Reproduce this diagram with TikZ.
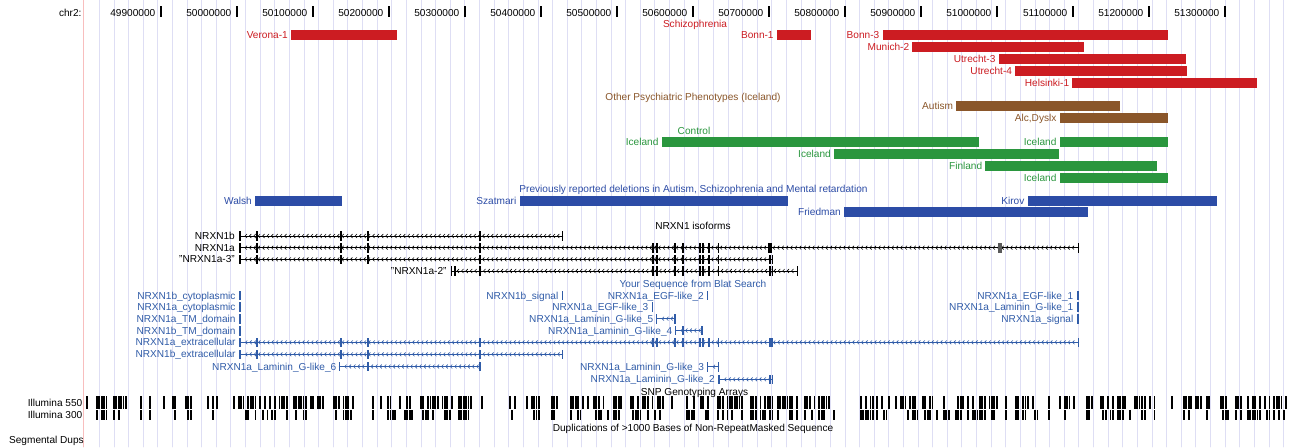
\documentclass[tikz,border=0pt]{standalone}
\usepackage{fontspec}
\setmainfont{Liberation Sans}
\usepackage{xcolor}
\definecolor{schred}{RGB}{204,28,34}
\definecolor{psybrown}{RGB}{138,86,42}
\definecolor{ctrlgreen}{RGB}{42,150,62}
\definecolor{prevblue}{RGB}{44,76,166}
\definecolor{blatblue}{RGB}{48,92,168}
\definecolor{gridcol}{RGB}{222,222,244}
\definecolor{pinkline}{RGB}{248,190,190}
% one coloured CNV bar with its name to the left
\newcommand{\cnvbar}[6]{%
  \fill[#2] (#4,#6-5) rectangle (#5,#6+5);
  \node[lbl,text=#2,anchor=east] (#1) at (#4-3,#6) {#3};}
% intron line with chevrons (minus strand)
\newcommand{\intron}[4]{%
  \draw[#1,line width=0.9pt] (#3,#2) -- (#4,#2);
  \pgfmathtruncatemacro\nchev{(#4-#3-4)/4.4}
  \foreach \k in {1,...,\nchev}
    \draw[#1,line width=0.6pt] ({#3+2.8+4.4*\k},#2-1.8) -- ++(-1.8,1.8) -- ++(1.8,1.8);}
% exon blocks x/width
\newcommand{\exons}[3]{%
  \foreach \x/\w in {#3}
    \fill[#1] ({\x-\w/2},#2-4.8) rectangle ({\x+\w/2},#2+4.8);}
\begin{document}
\begin{tikzpicture}
  [line cap=round,line join=round,x=1pt,y=-1pt,
   lbl/.style={inner sep=0pt,font=\fontsize{10.1}{12}\selectfont,text height=7.3pt,text depth=0pt}]
\useasboundingbox[fill=white] (0,0) rectangle (1290,447);
% guide lines
\foreach \k in {0,...,81}
  \draw[gridcol,line width=0.8pt] ({99.3+14.62*\k},0) -- ++(0,447);
\draw[pinkline,line width=0.8pt] (83.3,0) -- (83.3,447);
% ruler
\node[lbl,anchor=east] (chr) at (81.7,13) {chr2:};
\foreach \k in {0,...,14}{
  \pgfmathtruncatemacro\lab{499+\k}
  \draw[line width=1.8pt,line cap=butt] ({160.7+76*\k},6) -- ++(0,10.5);
  \node[lbl,anchor=east] (tick\k) at ({155.5+76*\k},12.5) {\lab00000};
}
% Schizophrenia
\node[lbl,text=schred] (schiz) at (695,23.5) {Schizophrenia};
\cnvbar{verona}{schred}{Verona-1}{291}{396.7}{34.7}
\cnvbar{bonna}{schred}{Bonn-1}{776.8}{811.2}{34.7}
\cnvbar{bonnc}{schred}{Bonn-3}{882.5}{1167.8}{34.7}
\cnvbar{munich}{schred}{Munich-2}{912.4}{1083.6}{46.7}
\cnvbar{utrc}{schred}{Utrecht-3}{998.6}{1186}{58.7}
\cnvbar{utrd}{schred}{Utrecht-4}{1015.2}{1187.3}{70.7}
\cnvbar{helsinki}{schred}{Helsinki-1}{1072.4}{1257}{82.7}
% other phenotypes
\node[lbl,text=psybrown] (other) at (693,96.5) {Other Psychiatric Phenotypes (Iceland)};
\cnvbar{autism}{psybrown}{Autism}{956.3}{1120}{105.5}
\cnvbar{alc}{psybrown}{Alc,Dyslx}{1059.6}{1167.8}{118}
% controls
\node[lbl,text=ctrlgreen] (control) at (694,130.5) {Control};
\cnvbar{icea}{ctrlgreen}{Iceland}{661.6}{979}{141.7}
\cnvbar{iceb}{ctrlgreen}{Iceland}{1059.6}{1167.8}{141.7}
\cnvbar{icec}{ctrlgreen}{Iceland}{834}{1058.7}{153.7}
\cnvbar{finland}{ctrlgreen}{Finland}{985.4}{1157}{166}
\cnvbar{iced}{ctrlgreen}{Iceland}{1059.6}{1167.8}{178}
% previously reported
\node[lbl,text=prevblue] (prev) at (693.5,189) {Previously reported deletions in Autism, Schizophrenia and Mental retardation};
\cnvbar{walsh}{prevblue}{Walsh}{255}{342}{200.5}
\cnvbar{szatmari}{prevblue}{Szatmari}{519.5}{788.4}{200.5}
\cnvbar{kirov}{prevblue}{Kirov}{1027.6}{1217}{200.5}
\cnvbar{friedman}{prevblue}{Friedman}{844}{1087.8}{212}
% NRXN1 isoforms
\node[lbl] (iso) at (693,225.7) {NRXN1 isoforms};
\node[lbl,anchor=east] (nxb) at (235,236) {NRXN1b};
\intron{black}{236}{239.6}{562.6}
\exons{black}{236}{239.6/1.8,257/1.4,340.8/1.4,368/1.4,480/1.4,562.6/1.4}
\node[lbl,anchor=east] (nxa) at (235,247.7) {NRXN1a};
\intron{black}{247.7}{239.6}{1078.6}
\exons{black}{247.7}{239.6/1.8,257/1.4,340.8/1.4,368/1.4,480/1.4,652.7/1.6,656.7/1.6,675/2.2,683/1.4,700/1.6,703/1.6,709/1.4,718.7/1.4,770/3.2,1078.6/1.4}
\exons{black!65}{247.7}{1000/3.2}
\node[lbl,anchor=east] (nxac) at (235,259.3) {"NRXN1a-3"};
\intron{black}{259.3}{239.6}{772.5}
\exons{black}{259.3}{239.6/1.8,257/1.4,340.8/2.6,368/1.4,480/1.4,652.7/1.6,656.7/1.6,675/1.8,683/1.4,700/1.6,703/1.6,709/1.4,718.7/1.4,770/1.5,772.5/1.5}
\node[lbl,anchor=east] (nxaa) at (446.7,271) {"NRXN1a-2"};
\intron{black}{271}{451.7}{797.3}
\exons{black}{271}{451.7/1.5,455/1.4,480/1.4,652.7/1.6,656.7/1.6,675/1.8,683/1.4,700/1.6,703/1.6,709/1.4,718.7/1.4,770/1.5,772.5/1.5,797.3/1.4}
% Blat search
\node[lbl,text=blatblue] (blat) at (693,284.3) {Your Sequence from Blat Search};
\node[lbl,text=blatblue,anchor=east] (bcyto) at (235.7,295.5) {NRXN1b\_cytoplasmic};
\node[lbl,text=blatblue,anchor=east] (acyto) at (235.7,307) {NRXN1a\_cytoplasmic};
\node[lbl,text=blatblue,anchor=east] (atm) at (235.7,319) {NRXN1a\_TM\_domain};
\node[lbl,text=blatblue,anchor=east] (btm) at (235.7,330.7) {NRXN1b\_TM\_domain};
\foreach \y in {295.5,307,319,330.7}{
  \exons{blatblue}{\y}{240/1.6}
}
\node[lbl,text=blatblue,anchor=east] (aextra) at (235.7,342.3) {NRXN1a\_extracellular};
\intron{blatblue}{342.3}{240}{1078.6}
\exons{blatblue}{342.3}{240/1.6,257/1.4,340.8/1.4,368/1.4,480/1.4,652.7/1.6,656.7/1.6,675/1.8,683/1.4,700/1.6,703/1.6,709/1.4,718.7/1.4,769.8/1.5,772/1.5,1078.6/1.4}
\node[lbl,text=blatblue,anchor=east] (bextra) at (235.7,354.3) {NRXN1b\_extracellular};
\intron{blatblue}{354.3}{240}{562.6}
\exons{blatblue}{354.3}{240/1.6,257/1.4,340.8/1.4,368/1.4,480/1.4,562.6/1.4}
\node[lbl,text=blatblue,anchor=east] (lgsix) at (336.5,366.5) {NRXN1a\_Laminin\_G-like\_6};
\intron{blatblue}{366.5}{339.3}{480}
\exons{blatblue}{366.5}{339.3/1.5,368/1.4,480/1.4}
\node[lbl,text=blatblue,anchor=east] (bsig) at (558.5,295.5) {NRXN1b\_signal};
\exons{blatblue}{295.5}{562.3/1.6}
\node[lbl,text=blatblue,anchor=east] (egftwo) at (704,295.5) {NRXN1a\_EGF-like\_2};
\exons{blatblue}{295.5}{707.3/1.6}
\node[lbl,text=blatblue,anchor=east] (egfthree) at (648.5,307) {NRXN1a\_EGF-like\_3};
\exons{blatblue}{307}{652.3/1.6}
\node[lbl,text=blatblue,anchor=east] (lgfive) at (653.5,318.7) {NRXN1a\_Laminin\_G-like\_5};
\intron{blatblue}{318.7}{656.7}{675}
\exons{blatblue}{318.7}{656.7/1.5,675/1.5}
\node[lbl,text=blatblue,anchor=east] (lgfour) at (672.5,330.5) {NRXN1a\_Laminin\_G-like\_4};
\intron{blatblue}{330.5}{675.7}{702}
\exons{blatblue}{330.5}{675.7/1.5,683/1.4,702/1.4}
\node[lbl,text=blatblue,anchor=east] (lgthree) at (704.3,366.7) {NRXN1a\_Laminin\_G-like\_3};
\intron{blatblue}{366.7}{707.7}{718.7}
\exons{blatblue}{366.7}{707.7/1.5,718.7/1.5}
\node[lbl,text=blatblue,anchor=east] (lgtwo) at (715,379.3) {NRXN1a\_Laminin\_G-like\_2};
\intron{blatblue}{379.3}{719}{772.5}
\exons{blatblue}{379.3}{719/1.5,769.8/1.5,772.5/1.5}
\node[lbl,text=blatblue,anchor=east] (egfone) at (1073.5,295.5) {NRXN1a\_EGF-like\_1};
\node[lbl,text=blatblue,anchor=east] (lgone) at (1073.5,307) {NRXN1a\_Laminin\_G-like\_1};
\node[lbl,text=blatblue,anchor=east] (asig) at (1073.5,319) {NRXN1a\_signal};
\foreach \y in {295.5,307,319}{
  \exons{blatblue}{\y}{1077.8/1.6}
}
% SNP arrays
\node[lbl] (snp) at (694.5,391.5) {SNP Genotyping Arrays};
\node[lbl,anchor=east] (illa) at (82.5,402.5) {Illumina 550};
\node[lbl,anchor=east] (illb) at (82.5,415.2) {Illumina 300};
\pgfmathsetseed{4242}
\foreach \a/\b in {86/86,96/106,113/125,140/140,149/149,163/163,172/177,185/192,207/207,212/212,216/216,
  233/287,293/323,333/353,372/374,380/413,420/452,458/473,481/481,509/514,526/539,551/557,570/589,
  593/609,613/622,630/655,657/673,686/694,700/708,717/744,750/773,777/798,804/835,860/872,876/889,
  895/918,922/938,943/963,967/997,1005/1005,1015/1038,1048/1048,1059/1075,1086/1092,1100/1113,
  1117/1142,1144/1154,1171/1171,1183/1200,1206/1212,1220/1229,1235/1241,1247/1287}{
  \pgfmathtruncatemacro\n{(\b-\a)/2.4}
  \foreach \i in {0,...,\n}{
    \pgfmathsetmacro\r{rnd}
    \ifnum\i=0 \def\r{0}\fi
    \ifdim\r pt<0.72pt \fill ({\a+2.4*\i},396) rectangle ++(1.8,12.7);\fi
    \pgfmathsetmacro\s{rnd}
    \ifdim\s pt<0.52pt \fill ({\a+2.4*\i},410.3) rectangle ++(1.8,10);\fi
  }}
% segmental dups
\node[lbl] (dups) at (693,427.5) {Duplications of >1000 Bases of Non-RepeatMasked Sequence};
\node[lbl,anchor=east] (segdup) at (84,439.5) {Segmental Dups};
\end{tikzpicture}
\end{document}
